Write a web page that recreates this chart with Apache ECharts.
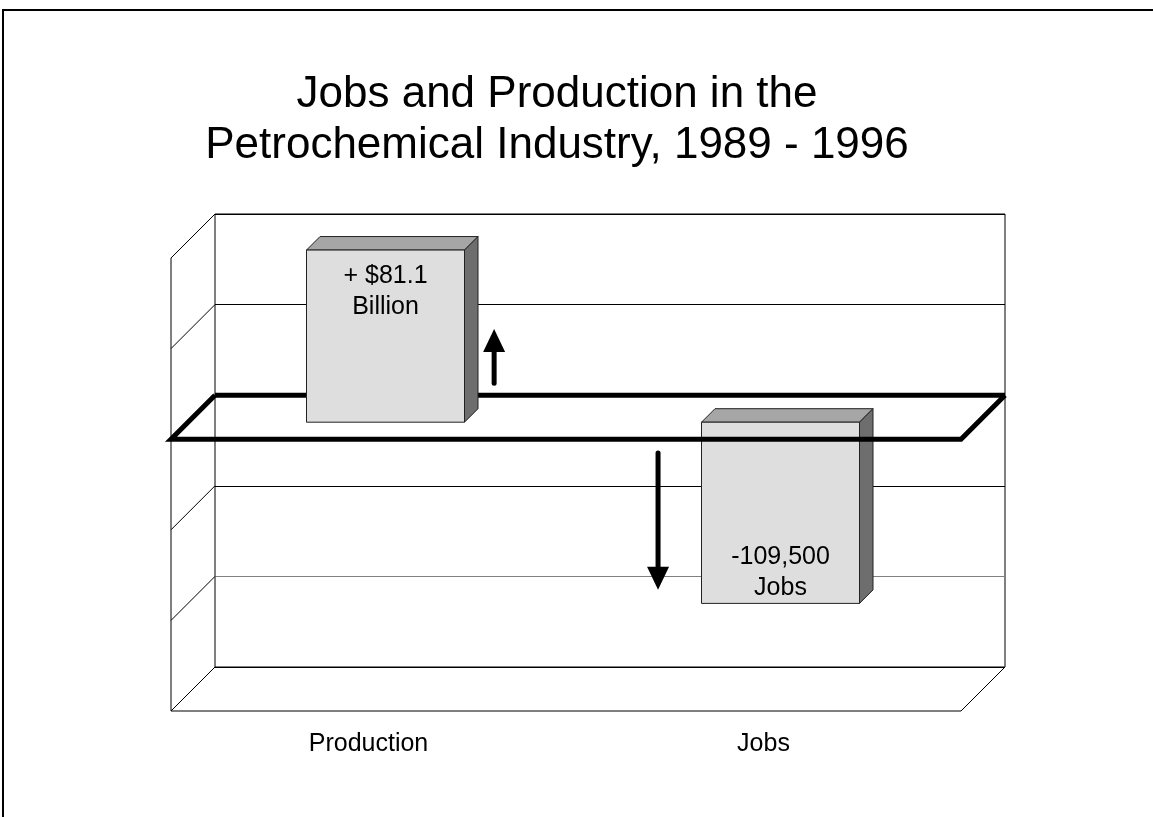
<!DOCTYPE html>
<html>
<head>
<meta charset="utf-8">
<script src="https://cdn.jsdelivr.net/npm/echarts@6/dist/echarts.min.js"></script>
<style>
html, body { margin: 0; padding: 0; background: #fff; }
#main { width: 1153px; height: 817px; }
</style>
</head>
<body>
<div id="main"></div>
<script>
// data
const categories = ['Production', 'Jobs'];
const values = [1.9, -2.0];
const barLabels = ['+ $81.1\nBillion', '-109,500\nJobs'];
const yTicks = [-3, -2, -1, 0, 1, 2];
// arrows next to the bars (value from -> to)
const arrowCats = [0, 1];
const arrowFrom = [0.43, -0.34];
const arrowTo = [1.03, -1.85];

const font = 'Liberation Sans, Arial, Helvetica, sans-serif';
const depth = 44;      // depth of floor / zero plane, drawn toward lower-left
const barFront = 27;   // bar front face offset
const barBack = 13.5;  // bar back face offset

const chart = echarts.init(document.getElementById('main'));

const line = (a, b, w, color) => ({
    type: 'line',
    shape: { x1: a[0], y1: a[1], x2: b[0], y2: b[1] },
    style: { stroke: color || '#000', lineWidth: w || 1 }
});

// side wall, floor and back edge of the zero plane
const renderFrame = (params, api) => {
    const cs = params.coordSys;
    const y = api.coord([0, api.value(1)])[1];
    const left = cs.x, right = cs.x + cs.width, bottom = cs.y + cs.height;
    const children = [line([left, y], [left - depth, y + depth])];
    if (api.value(1) === 0) {
        children.push(line([left, y], [right, y], 5));
    }
    if (params.dataIndex === 0) {
        children.push(line([left - depth, cs.y + depth], [left - depth, bottom + depth]));
        children.push(line([left - depth, bottom + depth], [right - depth, bottom + depth]));
        children.push(line([right, bottom], [right - depth, bottom + depth]));
    }
    return { type: 'group', children: children };
};

const renderBar = (params, api) => {
    const cs = params.coordSys;
    const idx = params.dataIndex;
    const v = api.value(1);
    const c0 = api.coord([api.value(0), 0]);
    const c1 = api.coord([api.value(0), v]);
    const w = api.size([1, 0])[0] * 0.4;
    const x0 = c0[0] - w / 2, x1 = c0[0] + w / 2;
    const yTop = Math.min(c0[1], c1[1]), yBot = Math.max(c0[1], c1[1]);
    const F = barFront, B = barBack;
    const edge = { stroke: '#222', lineWidth: 1 };
    return {
        type: 'group',
        children: [
            {
                type: 'polygon',
                shape: { points: [[x0 - F, yTop + F], [x1 - F, yTop + F], [x1 - B, yTop + B], [x0 - B, yTop + B]] },
                style: Object.assign({ fill: '#a6a6a6' }, edge)
            },
            {
                type: 'polygon',
                shape: { points: [[x1 - F, yTop + F], [x1 - B, yTop + B], [x1 - B, yBot + B], [x1 - F, yBot + F]] },
                style: Object.assign({ fill: '#6e6e6e' }, edge)
            },
            {
                type: 'rect',
                shape: { x: x0 - F, y: yTop + F, width: w, height: yBot - yTop },
                style: Object.assign({ fill: '#dedede' }, edge)
            },
            {
                type: 'text',
                style: {
                    text: barLabels[idx],
                    x: (x0 + x1) / 2 - F,
                    y: v >= 0 ? yTop + F + 11 : yBot + F,
                    align: 'center',
                    verticalAlign: v >= 0 ? 'top' : 'bottom',
                    fontSize: 25,
                    lineHeight: 31,
                    fontFamily: font,
                    fill: '#000'
                }
            },
            {
                type: 'text',
                style: {
                    text: categories[idx],
                    x: c0[0] - depth,
                    y: cs.y + cs.height + depth + 33,
                    align: 'center',
                    verticalAlign: 'middle',
                    fontSize: 25,
                    fontFamily: font,
                    fill: '#000'
                }
            }
        ]
    };
};

// front edge of the zero plane (sits in front of the bars)
const renderZeroFront = (params, api) => {
    const cs = params.coordSys;
    const y = api.coord([0, 0])[1];
    const left = cs.x, right = cs.x + cs.width;
    return {
        type: 'polyline',
        shape: { points: [[left, y], [left - depth, y + depth], [right - depth, y + depth], [right, y]] },
        style: { stroke: '#000', lineWidth: 5, fill: null, lineJoin: 'miter' }
    };
};

const renderArrow = (params, api) => {
    const shiftX = [0.275, -0.31];
    const band = api.size([1, 0])[0];
    const p0 = api.coord([api.value(0), api.value(1)]);
    const p1 = api.coord([api.value(0), api.value(2)]);
    const x = p0[0] + shiftX[params.dataIndex] * band - barFront;
    const y0 = p0[1] + barFront, y1 = p1[1] + barFront;
    const dir = y1 < y0 ? 1 : -1;
    const headLen = 23, headHalf = 11;
    return {
        type: 'group',
        children: [
            {
                type: 'line',
                shape: { x1: x, y1: y0, x2: x, y2: y1 + dir * (headLen - 3) },
                style: { stroke: '#000', lineWidth: 5, lineCap: 'round' }
            },
            {
                type: 'polygon',
                shape: { points: [[x, y1], [x - headHalf, y1 + dir * headLen], [x + headHalf, y1 + dir * headLen]] },
                style: { fill: '#000' }
            }
        ]
    };
};

chart.setOption({
    animation: false,
    backgroundColor: '#fff',
    graphic: [
        {
            type: 'rect',
            shape: { x: 3, y: 10, width: 1300, height: 1000 },
            style: { fill: null, stroke: '#000', lineWidth: 2 },
            z: -1
        },
        {
            type: 'text',
            x: 557,
            y: 69,
            style: {
                text: 'Jobs and Production in the\nPetrochemical Industry, 1989 - 1996',
                align: 'center',
                verticalAlign: 'top',
                fontSize: 44,
                lineHeight: 51,
                fontFamily: font,
                fill: '#000'
            }
        }
    ],
    grid: {
        left: 215,
        right: 148,
        top: 214,
        bottom: 150,
        show: true,
        borderColor: '#000',
        borderWidth: 1
    },
    xAxis: {
        type: 'category',
        data: categories,
        axisLine: { show: false },
        axisTick: { show: false },
        axisLabel: { show: false }
    },
    yAxis: {
        type: 'value',
        min: -3,
        max: 2,
        interval: 1,
        axisLine: { show: false },
        axisTick: { show: false },
        axisLabel: { show: false },
        splitLine: {
            lineStyle: { color: ['#000', '#808080', '#000', '#000', '#000', '#000'], width: 1 }
        }
    },
    series: [
        {
            name: 'frame',
            type: 'custom',
            z: 1,
            renderItem: renderFrame,
            encode: { x: 0, y: 1 },
            data: yTicks.map(t => [0, t])
        },
        {
            name: 'bars',
            type: 'custom',
            z: 2,
            renderItem: renderBar,
            encode: { x: 0, y: 1 },
            data: values.map((v, i) => [i, v])
        },
        {
            name: 'zero',
            type: 'custom',
            z: 3,
            renderItem: renderZeroFront,
            encode: { x: 0, y: 1 },
            data: [[0, 0]]
        },
        {
            name: 'arrows',
            type: 'custom',
            z: 4,
            renderItem: renderArrow,
            encode: { x: 0, y: [1, 2] },
            data: arrowCats.map((c, i) => [c, arrowFrom[i], arrowTo[i]])
        }
    ]
});
</script>
</body>
</html>
